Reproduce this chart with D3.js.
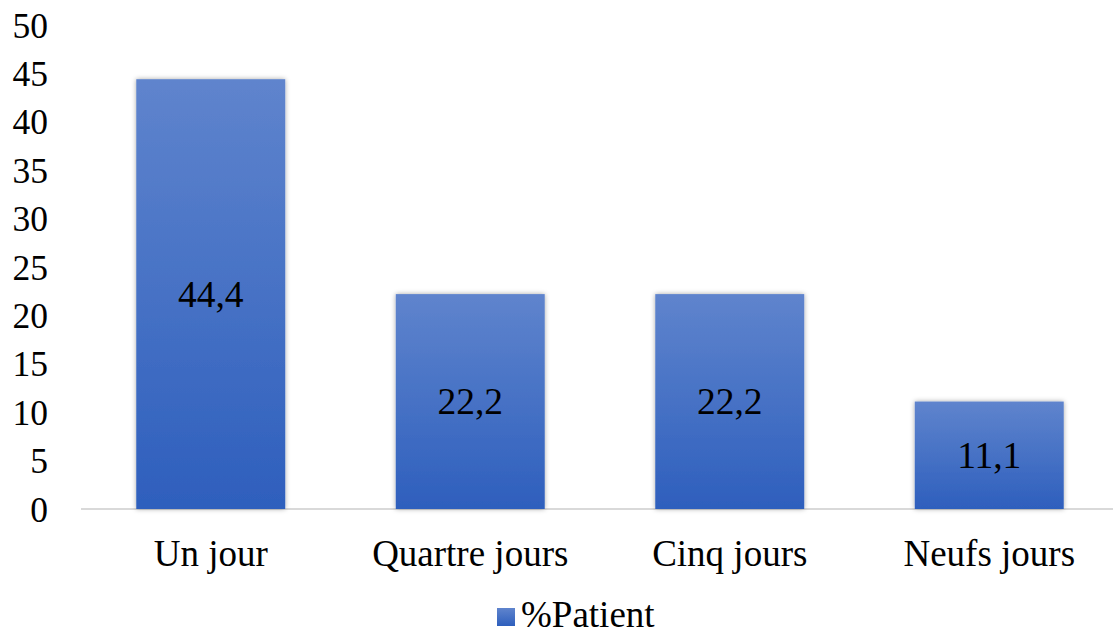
<!DOCTYPE html>
<html><head><meta charset="utf-8">
<script src="https://cdn.jsdelivr.net/npm/d3@7"></script>
<style>body{margin:0;background:#fff}svg{display:block}
svg text{font-family:"Liberation Serif","DejaVu Serif";}</style>
</head><body>
<svg id="c" width="1113" height="634"></svg>
<script>
const categories = ["Un jour", "Quartre jours", "Cinq jours", "Neufs jours"];
const values = [44.4, 22.2, 22.2, 11.1];
const valueLabels = ["44,4", "22,2", "22,2", "11,1"];
const yTicks = [0, 5, 10, 15, 20, 25, 30, 35, 40, 45, 50];
const seriesName = "%Patient";

const svg = d3.select("#c");
const defs = svg.append("defs");
const g = defs.append("linearGradient").attr("id","bg").attr("x1",0).attr("y1",0).attr("x2",0).attr("y2",1);
g.append("stop").attr("offset","0%").attr("stop-color","#5f84cd");
g.append("stop").attr("offset","100%").attr("stop-color","#2e5fbd");
const lg = defs.append("linearGradient").attr("id","lgg").attr("x1",0).attr("y1",0).attr("x2",0).attr("y2",1);
lg.append("stop").attr("offset","0%").attr("stop-color","#5f84cd");
lg.append("stop").attr("offset","100%").attr("stop-color","#2e5fbd");
const f = defs.append("filter").attr("id","sh").attr("x","-10%").attr("y","-10%").attr("width","120%").attr("height","120%");
f.append("feDropShadow").attr("dx",0).attr("dy",0).attr("stdDeviation",2.5).attr("flood-color","#000").attr("flood-opacity",0.35);

const y = d3.scaleLinear().domain([0,50]).range([509,25]);
const x = d3.scaleBand().domain(categories).range([81,1119]).padding(0);
const bw = x.bandwidth()*0.574;

svg.append("line").attr("x1",81).attr("x2",1113).attr("y1",y(0)).attr("y2",y(0))
  .attr("stroke","#d9d9d9").attr("stroke-width",2);

const ya = svg.append("g").attr("transform","translate(48,0)")
  .call(d3.axisLeft(y).tickValues(yTicks).tickSize(0).tickPadding(0));
ya.select(".domain").remove();
ya.attr("font-family",null).attr("font-size",null);
ya.selectAll("text").style("font-size","35.5px").attr("fill","#000").attr("dy","0.34em");

svg.selectAll("rect.bar").data(values).join("rect").attr("class","bar")
  .attr("x",(d,i)=>x(categories[i])+(x.bandwidth()-bw)/2)
  .attr("width",bw)
  .attr("y",d=>y(d)).attr("height",d=>y(0)-y(d))
  .attr("fill","url(#bg)").attr("filter","url(#sh)");

svg.selectAll("text.vl").data(values).join("text").attr("class","vl")
  .attr("x",(d,i)=>x(categories[i])+x.bandwidth()/2)
  .attr("y",d=>(y(d)+y(0))/2).attr("dy","0.34em")
  .attr("text-anchor","middle").style("font-size","37.5px").attr("fill","#000")
  .text((d,i)=>valueLabels[i]);

const xa = svg.append("g").attr("transform",`translate(0,${y(0)})`)
  .call(d3.axisBottom(x).tickSize(0).tickPadding(0));
xa.select(".domain").remove();
xa.attr("font-family",null).attr("font-size",null);
xa.selectAll("text").style("font-size","37px").attr("fill","#000").attr("dy",0).attr("y",57);

const leg = svg.append("g");
leg.append("rect").attr("x",497).attr("y",608).attr("width",18).attr("height",18).attr("fill","url(#lgg)");
leg.append("text").attr("x",521).attr("y",627).style("font-size","37px").attr("fill","#000").text(seriesName);
</script>
</body></html>
